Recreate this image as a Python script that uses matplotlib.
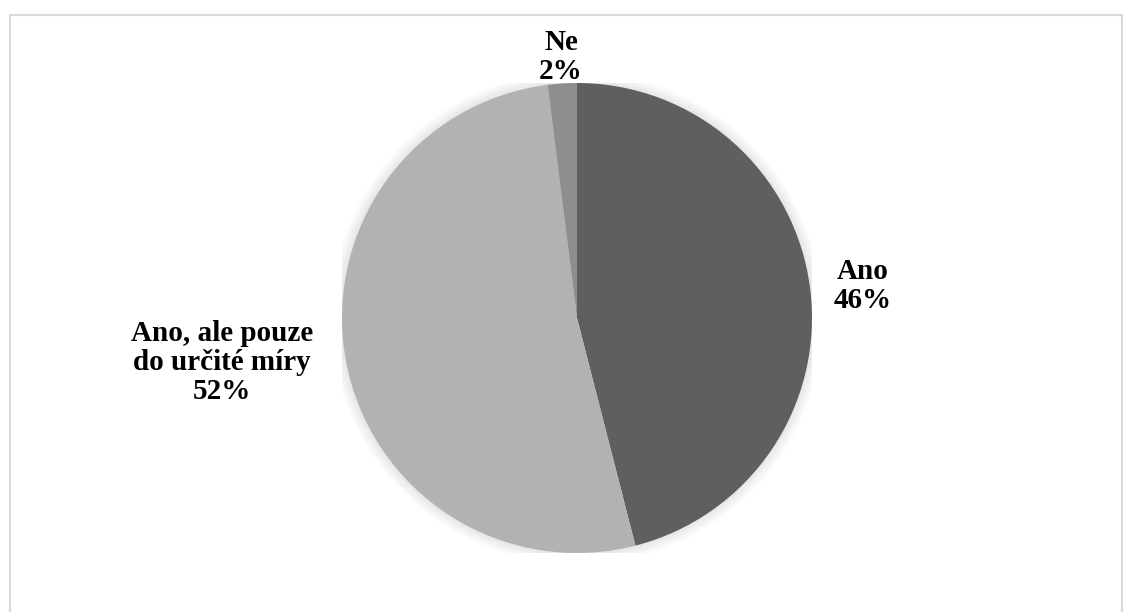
import matplotlib.pyplot as plt
from matplotlib.patches import Rectangle, Circle

labels = ['Ano', 'Ano, ale pouze\ndo určité míry', 'Ne']
values = [46, 52, 2]
colors = ['#5f5f5f', '#b2b2b2', '#8e8e8e']
label_pos = [(1.217, 0.136), (-1.51, -0.19), (-0.068, 1.11)]

plt.rcParams['font.family'] = ['Liberation Serif', 'DejaVu Serif']

fig = plt.figure(figsize=(11.32, 6.12), dpi=100)

# light grey frame around the chart area
fig.patches.append(Rectangle((10 / 1132, -0.05), 1112 / 1132, 1 - 15 / 612 + 0.05,
                             transform=fig.transFigure, fill=False,
                             edgecolor='#d9d9d9', linewidth=1.5))

ax = fig.add_axes([342 / 1132, 59 / 612, 470 / 1132, 470 / 612])

# soft shadow behind the pie
for i in range(8):
    ax.add_patch(Circle((0.0, 0.0), 1.0 + 0.006 * (i + 1), color='black',
                        alpha=0.012, linewidth=0, zorder=0))

ax.pie(values, colors=colors, startangle=90, counterclock=False, radius=1.0,
       wedgeprops=dict(linewidth=0))

for lab, v, (x, y) in zip(labels, values, label_pos):
    ax.text(x, y, f'{lab}\n{v}%', ha='center', va='center', fontsize=21,
            fontweight='bold', linespacing=1.08)

ax.set_xlim(-1, 1)
ax.set_ylim(-1, 1)
ax.set_aspect('equal')
ax.axis('off')

fig.savefig('out.png', dpi=100)
